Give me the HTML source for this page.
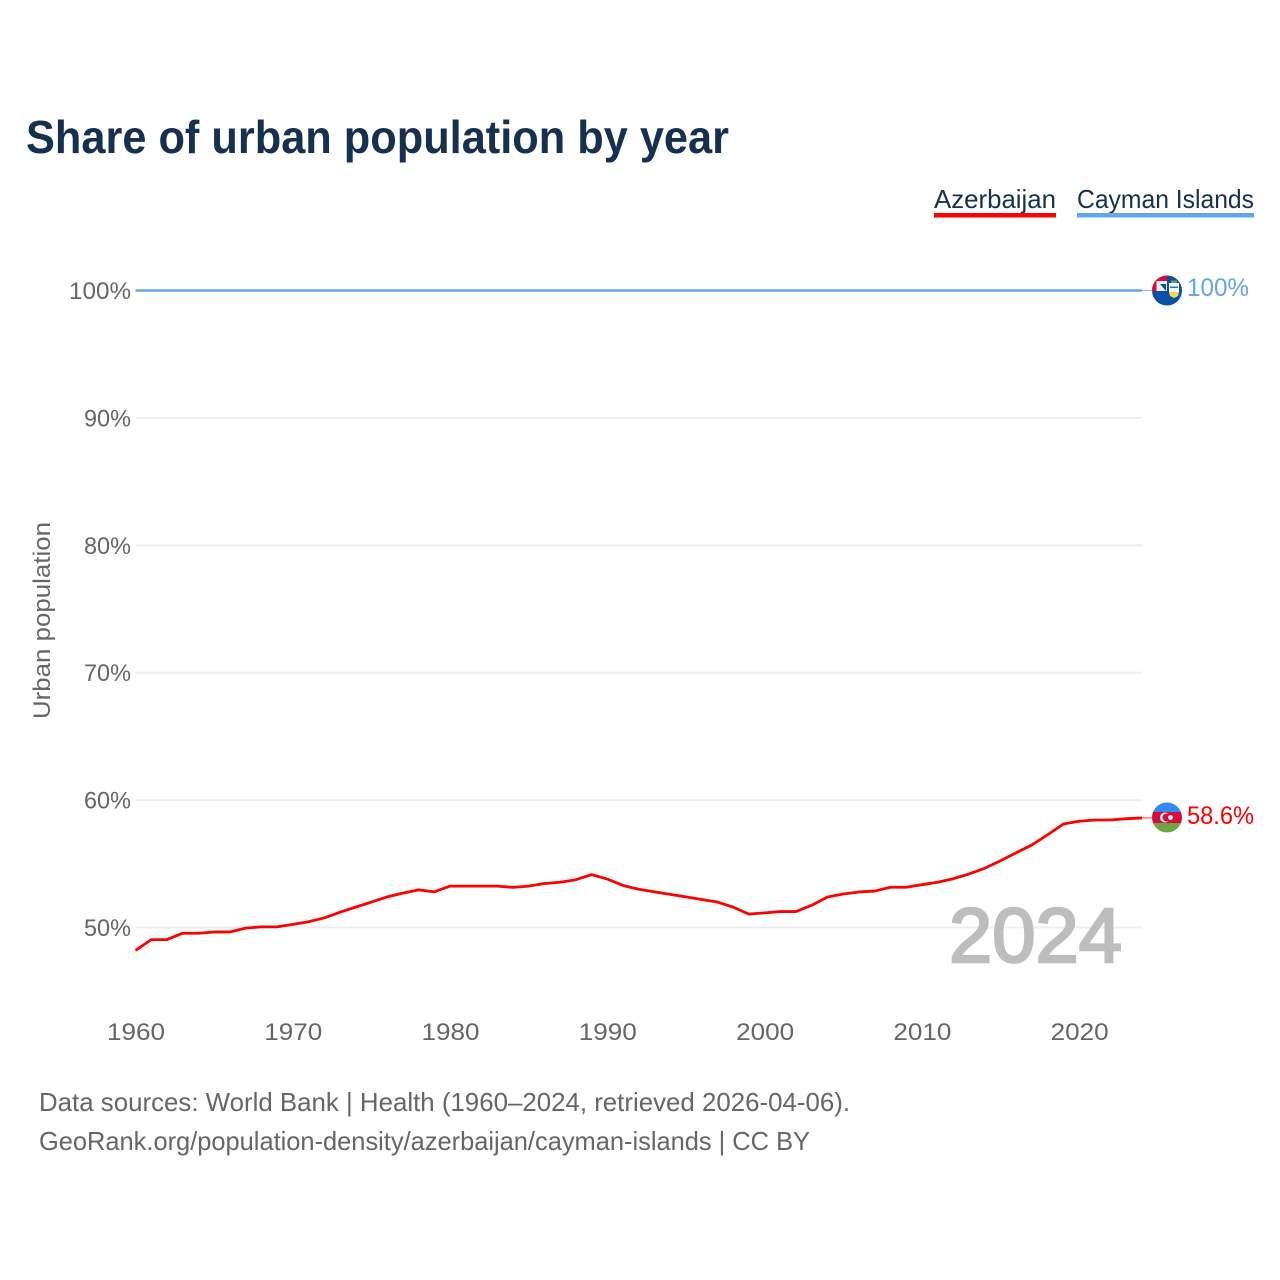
<!DOCTYPE html>
<html lang="en">
<head>
<meta charset="utf-8">
<title>Share of urban population by year</title>
<style>
html,body{margin:0;padding:0;background:#fff;width:1280px;height:1280px;overflow:hidden}
svg{display:block}
text{font-family:"Liberation Sans",sans-serif}
</style>
</head>
<body>
<svg id="chart" width="1280" height="1280" viewBox="0 0 1280 1280" xmlns="http://www.w3.org/2000/svg">
  <defs>
    <clipPath id="clip-cayman"><circle cx="1167" cy="290.5" r="15"/></clipPath>
    <clipPath id="clip-azer"><circle cx="1167" cy="817.5" r="15"/></clipPath>
  </defs>
  <text x="26" y="153" font-size="46" font-weight="700" fill="#17304f" textLength="703" lengthAdjust="spacingAndGlyphs">Share of urban population by year</text>

  <g>
    <text x="934" y="208" font-size="26" fill="#17304f" textLength="122" lengthAdjust="spacingAndGlyphs">Azerbaijan</text>
    <rect x="934" y="213" width="122" height="4.5" fill="#ff0000"/>
  </g>
  <g>
    <text x="1077" y="208" font-size="26" fill="#17304f" textLength="177" lengthAdjust="spacingAndGlyphs">Cayman Islands</text>
    <rect x="1077" y="213" width="177" height="4.5" fill="#64a6ec"/>
  </g>

  <g id="grid"></g>
  <g id="y-ticks"></g>
  <g id="x-ticks"></g>
  <text transform="translate(50,719) rotate(-90)" font-size="24" fill="#666" textLength="197" lengthAdjust="spacingAndGlyphs">Urban population</text>

  <text x="949" y="962" font-size="77" font-weight="400" fill="#bdbdbd" stroke="#bdbdbd" stroke-width="2.5" textLength="173" lengthAdjust="spacingAndGlyphs">2024</text>

  <g id="series"></g>

  <g clip-path="url(#clip-cayman)">
    <rect x="1152" y="275" width="30" height="31" fill="#0a4fa8"/>
    <rect x="1152" y="275" width="15" height="16" fill="#f0f0f0"/>
    <rect x="1152" y="275" width="15" height="6" fill="#d80b3b"/>
    <rect x="1152" y="275" width="4.5" height="16" fill="#d80b3b"/>
    <path d="M1160 284 L1166 284 L1166 291 Z" fill="#0a4fa8"/>
    <rect x="1169" y="283" width="10" height="9" fill="#ffffff"/>
    <rect x="1170" y="286.5" width="8" height="1.5" fill="#2a6fc0"/>
    <path d="M1169 292 L1179 292 L1178 296 L1174 298 L1170 296 Z" fill="#ffda44"/>
    <rect x="1171" y="280.5" width="6" height="2.5" fill="#6da544"/>
  </g>
  <g clip-path="url(#clip-azer)">
    <rect x="1152" y="802" width="30" height="10.5" fill="#338af3"/>
    <rect x="1152" y="812" width="30" height="11" fill="#d80b3b"/>
    <rect x="1152" y="823" width="30" height="10" fill="#6da544"/>
    <circle cx="1165" cy="817.5" r="5" fill="#fff"/>
    <circle cx="1166.5" cy="817.5" r="4" fill="#d80b3b"/>
    <circle cx="1170.5" cy="817.5" r="2.4" fill="#fff"/>
  </g>

  <text x="1187" y="296" font-size="25" fill="#62a5ea" textLength="62" lengthAdjust="spacingAndGlyphs">100%</text>
  <text x="1187" y="824" font-size="25" fill="#ff0000" textLength="67" lengthAdjust="spacingAndGlyphs">58.6%</text>

  <text x="39" y="1111" font-size="26" fill="#666" textLength="811" lengthAdjust="spacingAndGlyphs">Data sources: World Bank | Health (1960–2024, retrieved 2026-04-06).</text>
  <text x="39" y="1150" font-size="26" fill="#666" textLength="771" lengthAdjust="spacingAndGlyphs">GeoRank.org/population-density/azerbaijan/cayman-islands | CC BY</text>
</svg>
<script>
const years = [1960,1961,1962,1963,1964,1965,1966,1967,1968,1969,1970,1971,1972,1973,1974,1975,1976,1977,1978,1979,1980,1981,1982,1983,1984,1985,1986,1987,1988,1989,1990,1991,1992,1993,1994,1995,1996,1997,1998,1999,2000,2001,2002,2003,2004,2005,2006,2007,2008,2009,2010,2011,2012,2013,2014,2015,2016,2017,2018,2019,2020,2021,2022,2023,2024];
const azerbaijanValues = [48.2,49.05,49.05,49.55,49.55,49.65,49.65,49.95,50.05,50.05,50.25,50.45,50.75,51.2,51.6,52.0,52.4,52.7,52.95,52.8,53.25,53.25,53.25,53.25,53.15,53.25,53.45,53.55,53.75,54.15,53.8,53.3,53.0,52.8,52.6,52.4,52.2,52.0,51.6,51.05,51.15,51.25,51.25,51.75,52.39,52.63,52.79,52.86,53.16,53.16,53.36,53.55,53.83,54.2,54.65,55.24,55.87,56.48,57.28,58.12,58.34,58.44,58.44,58.54,58.6];
const caymanValues = [100,100,100,100,100,100,100,100,100,100,100,100,100,100,100,100,100,100,100,100,100,100,100,100,100,100,100,100,100,100,100,100,100,100,100,100,100,100,100,100,100,100,100,100,100,100,100,100,100,100,100,100,100,100,100,100,100,100,100,100,100,100,100,100,100];
const yTickValues = [50,60,70,80,90,100];
const yTickLabels = ['50%','60%','70%','80%','90%','100%'];
const xTickValues = [1960,1970,1980,1990,2000,2010,2020];
const xTickLabels = ['1960','1970','1980','1990','2000','2010','2020'];

const NS = 'http://www.w3.org/2000/svg';
function xScale(year) { return 135.5 + (year - 1960) * (1142 - 135.5) / 64; }
function yScale(value) { return 927.5 - (value - 50) * (927.5 - 290.5) / 50; }
function make(tag, attrs, parent, text) {
  const el = document.createElementNS(NS, tag);
  for (const k in attrs) el.setAttribute(k, attrs[k]);
  if (text !== undefined) el.textContent = text;
  parent.appendChild(el);
  return el;
}

const grid = document.getElementById('grid');
const yTicks = document.getElementById('y-ticks');
yTickValues.forEach(function (v, i) {
  const gl = make('line', {x1: 136, x2: 1142, y1: yScale(v), y2: yScale(v), stroke: '#eeeeee', 'stroke-width': 2}, grid);
  
  
  const label = yTickLabels[i];
  const tx = make('text', {x: 131, y: yScale(v) + 8.5, 'text-anchor': 'end', 'font-size': 24, fill: '#666', textLength: label.length === 4 ? 62 : 47, lengthAdjust: 'spacingAndGlyphs'}, yTicks, label);
  
  
});

const xTicks = document.getElementById('x-ticks');
xTickValues.forEach(function (v, i) {
  const tx = make('text', {x: xScale(v) + 0.5, y: 1040, 'text-anchor': 'middle', 'font-size': 24, fill: '#666', textLength: 58, lengthAdjust: 'spacingAndGlyphs'}, xTicks, xTickLabels[i]);
  
  
});

function toPoints(values) {
  return values.map(function (v, i) { return xScale(years[i]).toFixed(2) + ',' + yScale(v).toFixed(2); }).join(' ');
}
const series = document.getElementById('series');
const caymanLine = make('polyline', {points: toPoints(caymanValues), fill: 'none', stroke: '#64a6ec', 'stroke-width': 2.6, 'stroke-linejoin': 'round'}, series);


const azerLine = make('polyline', {points: toPoints(azerbaijanValues), fill: 'none', stroke: '#ff0000', 'stroke-width': 2.8, 'stroke-linejoin': 'round'}, series);



const lastIndex = years.length - 1;
const caymanLead = make('line', {x1: xScale(years[lastIndex]), x2: 1152, y1: yScale(caymanValues[lastIndex]), y2: yScale(caymanValues[lastIndex]), stroke: '#64a6ec', 'stroke-width': 0.8}, series);


const azerLead = make('line', {x1: xScale(years[lastIndex]), x2: 1152, y1: yScale(azerbaijanValues[lastIndex]), y2: yScale(azerbaijanValues[lastIndex]), stroke: '#ff0000', 'stroke-width': 0.8}, series);


</script>
</body>
</html>
